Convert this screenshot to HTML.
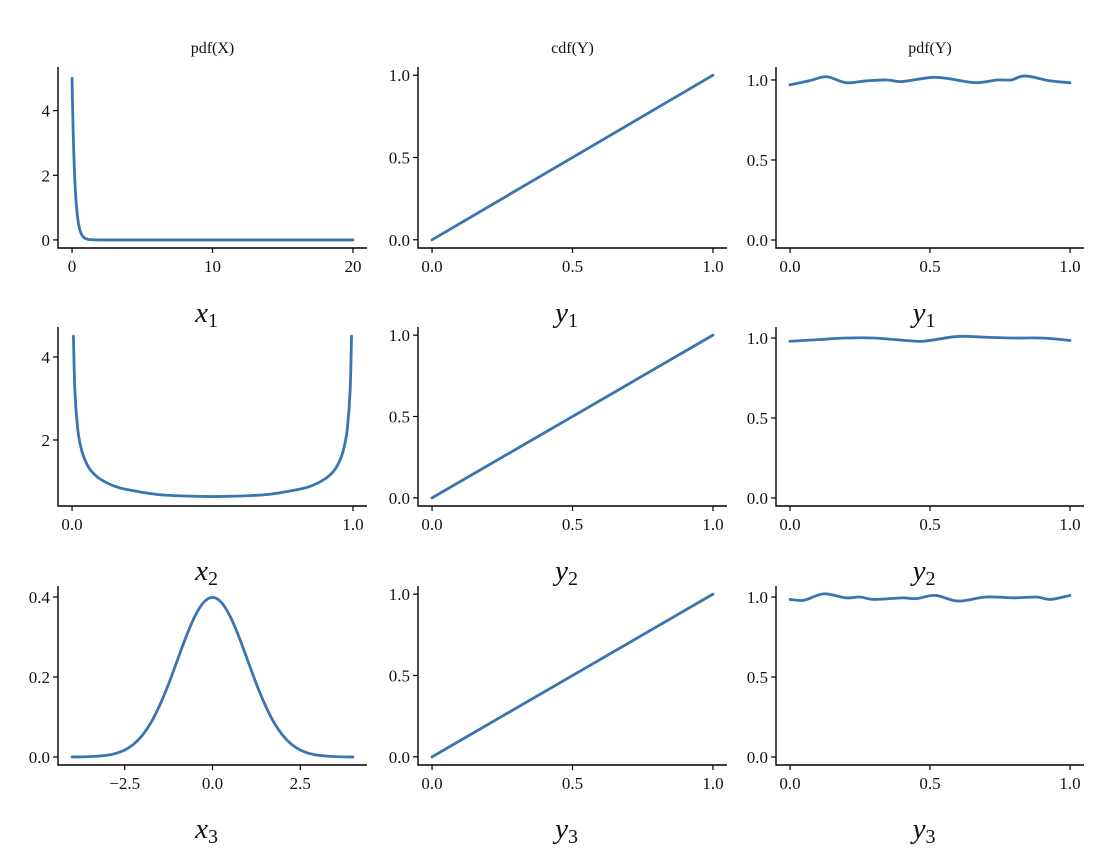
<!DOCTYPE html>
<html><head><meta charset="utf-8">
<style>
body{margin:0;background:#fff;}
svg text{font-family:"Liberation Serif","DejaVu Serif",serif;fill:#111;}
</style></head>
<body>
<svg id="fig" width="1112" height="862" xmlns="http://www.w3.org/2000/svg"></svg>
<script>
// ---- data ----
const expX = [0,0.025,0.05,0.075,0.1,0.15,0.2,0.25,0.3,0.4,0.5,0.6,0.75,0.9,1,1.2,1.5,2,5,10,15,20];
const expY = [5,4.41,3.9,3.44,3.03,2.36,1.84,1.43,1.12,0.68,0.41,0.25,0.12,0.055,0.034,0.012,0.003,0,0,0,0,0];
const arcX = [0.005,0.01,0.02,0.03,0.04,0.055,0.07,0.1,0.15,0.2,0.3,0.4,0.5,0.6,0.7,0.8,0.85,0.9,0.93,0.945,0.96,0.97,0.98,0.99,0.995];
const arcY = [4.5,3.2,2.27,1.87,1.62,1.39,1.24,1.06,0.89,0.80,0.69,0.65,0.637,0.65,0.69,0.80,0.89,1.06,1.24,1.39,1.62,1.87,2.27,3.2,4.5];
const normX = [-4,-3.5,-3,-2.75,-2.5,-2.25,-2,-1.75,-1.5,-1.25,-1,-0.75,-0.5,-0.25,0,0.25,0.5,0.75,1,1.25,1.5,1.75,2,2.25,2.5,2.75,3,3.5,4];
const normY = [0.0001,0.0009,0.0044,0.0091,0.0175,0.0317,0.054,0.0863,0.13,0.1826,0.242,0.3011,0.352,0.3867,0.399,0.3867,0.352,0.3011,0.242,0.1826,0.13,0.0863,0.054,0.0317,0.0175,0.0091,0.0044,0.0009,0.0001];
const cdfX = [0,1];
const cdfY = [0,1];
const pdfY1X = [0,0.071,0.131,0.2,0.27,0.345,0.4,0.5,0.56,0.66,0.74,0.79,0.84,0.93,1.0];
const pdfY1V = [0.969,0.996,1.02,0.983,0.994,1.0,0.99,1.015,1.01,0.983,1.0,1.0,1.025,0.994,0.983];
const pdfY2X = [0,0.1,0.2,0.3,0.45,0.5,0.6,0.7,0.8,0.9,1.0];
const pdfY2V = [0.98,0.99,1.0,1.0,0.98,0.985,1.01,1.005,1.0,1.0,0.985];
const pdfY3X = [0,0.05,0.12,0.2,0.25,0.3,0.4,0.45,0.52,0.6,0.7,0.8,0.88,0.93,1.0];
const pdfY3V = [0.985,0.98,1.02,0.995,1.0,0.985,0.995,0.99,1.01,0.975,1.0,0.995,1.0,0.985,1.01];
const ticksX1 = [0,10,20], tickLabX1 = ["0","10","20"];
const ticksY1 = [0,2,4], tickLabY1 = ["0","2","4"];
const ticksU = [0,0.5,1], tickLabU = ["0.0","0.5","1.0"];
const ticksX2 = [0,1], tickLabX2 = ["0.0","1.0"];
const ticksY2 = [2,4], tickLabY2 = ["2","4"];
const ticksX3 = [-2.5,0,2.5], tickLabX3 = ["\u22122.5","0.0","2.5"];
const ticksY3 = [0,0.2,0.4], tickLabY3 = ["0.0","0.2","0.4"];

const NS="http://www.w3.org/2000/svg";
const svg=document.getElementById('fig');
function mk(tag,attrs,parent){const e=document.createElementNS(NS,tag);for(const k in attrs)e.setAttribute(k,attrs[k]);(parent||svg).appendChild(e);return e;}

const cols=[{l:58,r:367},{l:418,r:727},{l:776,r:1084}];
const rows=[{t:67,b:248,lab:322},{t:327,b:506,lab:580},{t:586,b:765,lab:838}];

function smooth(pts){
  if(pts.length<3) return 'M'+pts.map(p=>p[0]+','+p[1]).join('L');
  let d='M'+pts[0][0]+','+pts[0][1];
  for(let i=0;i<pts.length-1;i++){
    const p0=pts[Math.max(0,i-1)],p1=pts[i],p2=pts[i+1],p3=pts[Math.min(pts.length-1,i+2)];
    const c1=[p1[0]+(p2[0]-p0[0])/6,p1[1]+(p2[1]-p0[1])/6];
    const c2=[p2[0]-(p3[0]-p1[0])/6,p2[1]-(p3[1]-p1[1])/6];
    d+=`C${c1[0]},${c1[1]} ${c2[0]},${c2[1]} ${p2[0]},${p2[1]}`;
  }
  return d;
}

function panel(name,ci,ri,xd,yd,xs,ys,xt,xtl,yt,ytl,xlabel,sub,title){
  const c=cols[ci],r=rows[ri];
  const g=mk('g',{});
  
  
  const X=v=>c.l+(v-xd[0])/(xd[1]-xd[0])*(c.r-c.l);
  const Y=v=>r.b-(v-yd[0])/(yd[1]-yd[0])*(r.b-r.t);
  const sp=mk('path',{d:`M${c.l},${r.t}V${r.b}H${c.r}`,fill:'none',stroke:'#000','stroke-width':1.4},g);
  
  
  xt.forEach((v,i)=>{
    mk('line',{x1:X(v),x2:X(v),y1:r.b,y2:r.b+5,stroke:'#000','stroke-width':1.2},g);
    const t=mk('text',{x:X(v),y:r.b+24,'text-anchor':'middle','font-size':17},g);
    t.textContent=xtl[i];
    
    
  });
  yt.forEach((v,i)=>{
    mk('line',{x1:c.l-5,x2:c.l,y1:Y(v),y2:Y(v),stroke:'#000','stroke-width':1.2},g);
    const t=mk('text',{x:c.l-8,y:Y(v)+6,'text-anchor':'end','font-size':17},g);
    t.textContent=ytl[i];
    
    
  });
  const p=mk('path',{d:smooth(xs.map((v,i)=>[X(v),Y(ys[i])])),fill:'none',stroke:'#3a75b0','stroke-width':2.8,'stroke-linejoin':'round','stroke-linecap':'round'},g);
  
  
  const lx=mk('text',{x:(c.l+c.r)/2-6,y:r.lab,'text-anchor':'middle','font-size':29,'font-style':'italic'},g);
  lx.textContent=xlabel;
  const s=mk('tspan',{'font-size':20,'font-style':'normal',dy:5},lx);
  s.textContent=sub;
  
  
  if(title){
    const tt=mk('text',{x:(c.l+c.r)/2,y:53,'text-anchor':'middle','font-size':16},g);
    tt.textContent=title;
    
    
  }
}
const xU=[-0.05,1.05];
panel('pdf-x1',0,0,[-1,21],[-0.25,5.35],expX,expY,ticksX1,tickLabX1,ticksY1,tickLabY1,'x','1','pdf(X)');
panel('cdf-y1',1,0,xU,[-0.05,1.05],cdfX,cdfY,ticksU,tickLabU,ticksU,tickLabU,'y','1','cdf(Y)');
panel('pdf-y1',2,0,xU,[-0.05,1.081],pdfY1X,pdfY1V,ticksU,tickLabU,ticksU,tickLabU,'y','1','pdf(Y)');
panel('pdf-x2',0,1,xU,[0.41,4.72],arcX,arcY,ticksX2,tickLabX2,ticksY2,tickLabY2,'x','2','');
panel('cdf-y2',1,1,xU,[-0.05,1.05],cdfX,cdfY,ticksU,tickLabU,ticksU,tickLabU,'y','2','');
panel('pdf-y2',2,1,xU,[-0.05,1.069],pdfY2X,pdfY2V,ticksU,tickLabU,ticksU,tickLabU,'y','2','');
panel('pdf-x3',0,2,[-4.4,4.4],[-0.02,0.4275],normX,normY,ticksX3,tickLabX3,ticksY3,tickLabY3,'x','3','');
panel('cdf-y3',1,2,xU,[-0.05,1.05],cdfX,cdfY,ticksU,tickLabU,ticksU,tickLabU,'y','3','');
panel('pdf-y3',2,2,xU,[-0.05,1.069],pdfY3X,pdfY3V,ticksU,tickLabU,ticksU,tickLabU,'y','3','');
</script>
</body></html>
